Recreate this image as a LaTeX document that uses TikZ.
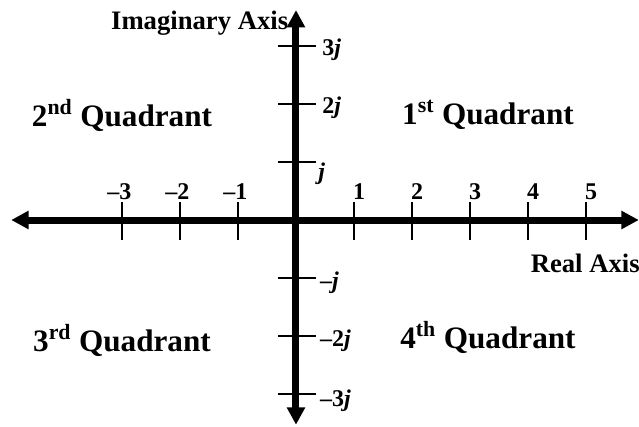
\documentclass[tikz,border=0pt]{standalone}
\usepackage{fontspec}
\setmainfont{Liberation Serif}
\usetikzlibrary{arrows.meta}

\tikzset{
  axis/.style={line width=5.25pt,-{Triangle[length=13pt,width=13pt]}},
  tick/.style={line width=1.5pt},
  num/.style={font=\fontsize{18}{20}\selectfont\bfseries,inner sep=0pt},
  quad/.style={font=\fontsize{23.4}{27}\selectfont\bfseries,inner sep=0pt},
  axlabel/.style={font=\fontsize{20}{22}\selectfont\bfseries,inner sep=0pt}
}
\newcommand{\jj}{\textbf{\textit{j}}}

\begin{document}
\begin{tikzpicture}[x=43.5pt,y=43.5pt]
  \useasboundingbox (-5.1034,-3.5517) rectangle (5.9138,3.7931);
  % axes
  \coordinate (o) at (0,0);
  \coordinate (xl) at (-4.91,0); \coordinate (xr) at (5.91,0);
  \coordinate (yt) at (0,3.62); \coordinate (yb) at (0,-3.53);
  \draw[axis] (o) -- (xr); \draw[axis] (o) -- (xl);
  \draw[axis] (o) -- (yt); \draw[axis] (o) -- (yb);
  % ticks on the real axis
  \foreach \x in {-3,-2,-1,1,2,3,4,5}{
    \draw[tick] (\x,0.31) -- (\x,-0.345);
  }
  \foreach \x in {-3,-2,-1}{\node[num,anchor=base west] (r\x) at (\x-0.05,0.345) {\llap{–}\the\numexpr-\x\relax};}
  \foreach \x in {1,...,5}{\node[num,anchor=base west] (r\x) at (\x-0.02,0.345) {\x};}
  % ticks on the imaginary axis
  \foreach \y in {-3,-2,-1,1,2,3}{
    \draw[tick] (-0.31,\y) -- (0.345,\y);
  }
  \node[num,anchor=west] (i3) at (0.45,2.93) {3\jj};
  \node[num,anchor=west] (i2) at (0.45,1.93) {2\jj};
  \node[num,anchor=west] (i1) at (0.38,0.8) {\jj};
  \node[num,anchor=west] (im1) at (0.41,-1.08) {–\jj};
  \node[num,anchor=west] (im2) at (0.41,-2.08) {–2\jj};
  \node[num,anchor=west] (im3) at (0.41,-3.12) {–3\jj};
  % axis names
  \node[axlabel,anchor=base east] (iname) at (-0.13,3.28) {Imaginary Axis};
  \node[axlabel,anchor=base east] (rname) at (5.93,-0.9) {Real Axis};
  % quadrants
  \node[quad] (q1) at (3.31,1.81) {1\textsuperscript{st} Quadrant};
  \node[quad] (q2) at (-3.0,1.81) {2\textsuperscript{nd} Quadrant};
  \node[quad] (q3) at (-3.0,-2.07) {3\textsuperscript{rd} Quadrant};
  \node[quad] (q4) at (3.31,-2.03) {4\textsuperscript{th} Quadrant};
\end{tikzpicture}
\end{document}
